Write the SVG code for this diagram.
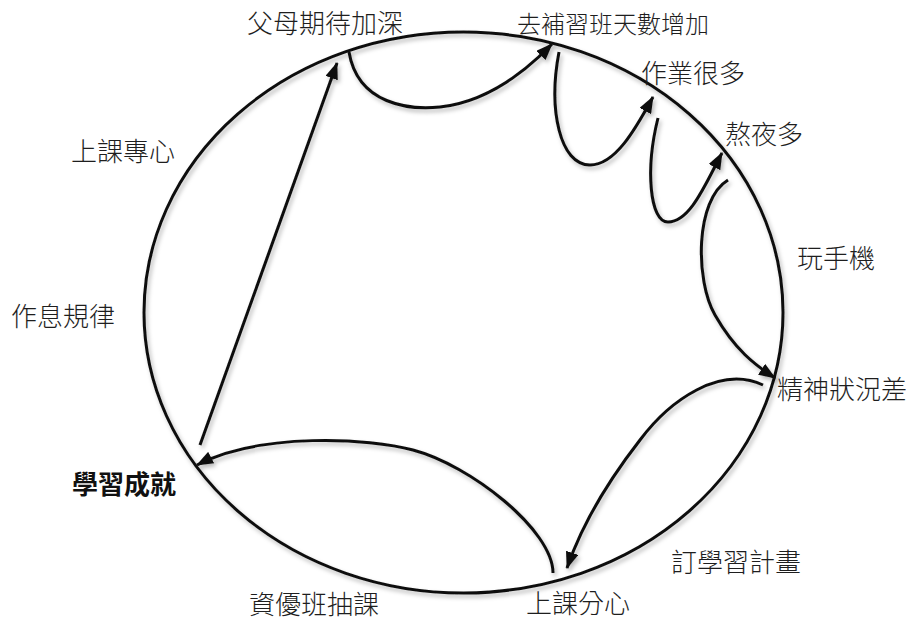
<svg xmlns="http://www.w3.org/2000/svg" width="916" height="622" viewBox="0 0 916 622">
<style>
.lbl{font-family:"Noto Sans CJK TC","Noto Sans CJK SC",sans-serif;font-size:26px;fill:#1e1e1e;font-weight:300}
.bold{font-weight:700;fill:#111}
.ln{fill:none;stroke:#111;stroke-width:3;stroke-linecap:butt}
</style>
<defs>
<filter id="sh" x="-10%" y="-10%" width="120%" height="120%">
<feDropShadow dx="2" dy="3" stdDeviation="2" flood-color="#000" flood-opacity="0.28"/>
</filter>
<marker id="ah" markerUnits="userSpaceOnUse" markerWidth="17" markerHeight="13" refX="16" refY="6.5" orient="auto">
<path d="M0,0 L17,6.5 L0,13 z" fill="#111"/>
</marker>
</defs>
<rect width="916" height="622" fill="#fff"/>
<g id="ring" filter="url(#sh)">
<ellipse cx="463.5" cy="312.5" rx="319.5" ry="280.5" class="ln"/>
</g>
<g id="connectors" filter="url(#sh)">
<path class="ln" marker-end="url(#ah)" d="M200,445 L337,63"/>
<path class="ln" marker-end="url(#ah)" d="M349,52 C358,105 410,110 440,107 C485,102 522,75 552,44"/>
<path class="ln" marker-end="url(#ah)" d="M559,52 C548,110 560,165 590,165 C615,165 635,130 653,97"/>
<path class="ln" marker-end="url(#ah)" d="M658,118 C645,170 650,222 668,222 C690,222 705,185 722,153"/>
<path class="ln" marker-end="url(#ah)" d="M728,180 C695,200 695,280 715,315 C735,350 755,365 775,378"/>
<path class="ln" marker-end="url(#ah)" d="M763,385 C720,365 670,400 640,440 C605,485 580,530 567,568"/>
<path class="ln" marker-end="url(#ah)" d="M553,573 C553,530 470,465 413,450 C370,438 260,432 197,465"/>
</g>
<g id="n1"><text class="lbl" x="247" y="33">父母期待加深</text></g>
<g id="n2"><text class="lbl" x="517" y="33" style="font-size:24px">去補習班天數增加</text></g>
<g id="n3"><text class="lbl" x="641" y="83">作業很多</text></g>
<g id="n4"><text class="lbl" x="725" y="144">熬夜多</text></g>
<g id="n5"><text class="lbl" x="797" y="268">玩手機</text></g>
<g id="n6"><text class="lbl" x="777" y="399">精神狀況差</text></g>
<g id="n7"><text class="lbl" x="671" y="572">訂學習計畫</text></g>
<g id="n8"><text class="lbl" x="526" y="613">上課分心</text></g>
<g id="n9"><text class="lbl" x="249" y="614">資優班抽課</text></g>
<g id="n10"><text class="lbl bold" x="72" y="494">學習成就</text></g>
<g id="n11"><text class="lbl" x="71" y="161">上課專心</text></g>
<g id="n12"><text class="lbl" x="11" y="326">作息規律</text></g>
</svg>
